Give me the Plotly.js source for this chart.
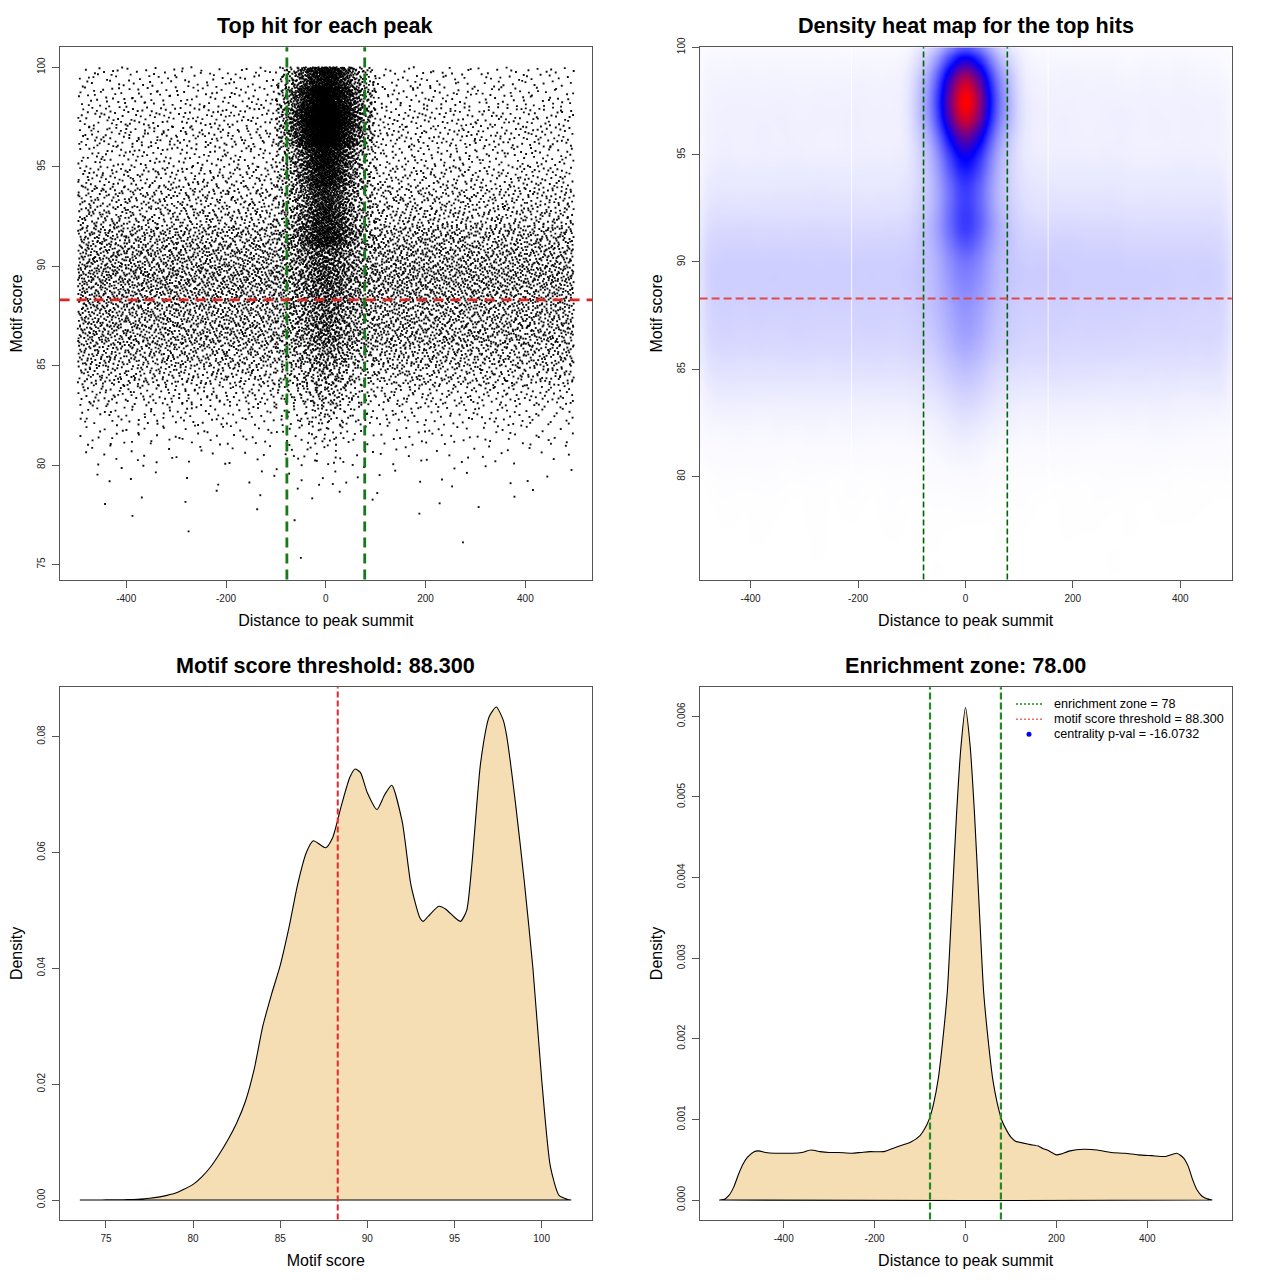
<!DOCTYPE html>
<html><head><meta charset="utf-8">
<script src="https://cdn.plot.ly/plotly-3.0.1.min.js"></script>
<style>html,body{margin:0;padding:0;background:#fff}#chart{width:1280px;height:1280px}</style>
</head><body><div id="chart"></div>
<script>
// ---------------- data ----------------
// score bins [s, s+1) for the "top hit" scatter
const scoreBins = [75,76,77,78,79,80,81,82,83,84,85,86,87,88,89,90,91,92,93,94,95,96,97,98,99];
// hits spread over the whole window (-497..497) per score bin
const bgCounts = [1,2,5,12,28,59,119,198,336,551,729,923,930,1031,1114,972,855,598,524,394,287,350,310,241,200];
// hits concentrated round the summit per score bin
const centerCounts = [0,0,0,2,5,10,17,31,51,60,80,110,120,140,160,190,374,340,320,470,550,950,1150,930,580];
// x spread of the wide hits (relative density per unit, bins of 100)
const bgXEdges = [-497,-400,-300,-200,-100,0,100,200,300,400,497];
const bgXWeights = [1.00,1.00,0.99,1.01,1.00,1.00,1.04,1.00,0.97,0.95];
// x spread of the central hits (relative density, bins of 10)
const centerXEdges = [-100,-90,-80,-70,-60,-50,-40,-30,-20,-10,0,10,20,30,40,50,60,70,80,90,100];
const centerXWeights = [0.3,0.42,0.6,0.9,1.35,1.9,2.6,3.5,4.3,4.8,4.8,4.3,3.5,2.6,1.9,1.35,0.9,0.6,0.42,0.28];

// density of motif score
const scoreGrid = [73.5,74,74.5,75,75.5,76,76.5,77,77.5,78,78.5,79,79.5,80,80.5,81,81.5,82,82.5,83,83.5,84,84.5,85,85.5,86,86.5,86.9,87.6,88,88.5,89,89.3,89.6,90,90.55,91,91.4,92,92.5,93,93.2,93.5,94.1,94.5,95,95.35,95.7,96,96.5,97,97.4,97.8,98,98.5,99,99.5,100,100.5,101,101.5,101.7];
const scoreDensity = [0,0,0.00001,0.00002,0.00003,0.00005,0.00009,0.00015,0.0003,0.0005,0.0008,0.0012,0.0019,0.0027,0.0040,0.0057,0.0079,0.0104,0.0133,0.0170,0.0225,0.0300,0.0355,0.0405,0.0470,0.0545,0.0600,0.0620,0.0608,0.0625,0.0680,0.0730,0.0744,0.0738,0.0703,0.0674,0.0700,0.0716,0.0653,0.0544,0.0488,0.0481,0.0490,0.0507,0.0502,0.0488,0.0481,0.0500,0.0580,0.0755,0.0835,0.0851,0.0828,0.0800,0.0685,0.0551,0.0400,0.0209,0.0058,0.0008,0.0001,0];

// density of distance to summit
const distGrid = [-541,-530,-520,-510,-500,-490,-480,-465,-455,-440,-420,-400,-380,-360,-340,-320,-300,-280,-250,-230,-210,-180,-160,-140,-120,-100,-90,-80,-70,-60,-50,-40,-30,-20,-10,0,10,20,30,40,50,60,70,80,90,100,110,140,160,170,180,200,210,230,260,290,320,350,380,410,440,465,480,490,500,510,520,530,543];
const distDensity = [0,0.00001,0.00006,0.00016,0.00031,0.00044,0.00053,0.00060,0.00061,0.00059,0.00058,0.00058,0.00058,0.00059,0.00062,0.00060,0.00059,0.00059,0.00058,0.00059,0.00060,0.00060,0.00064,0.00068,0.00072,0.00080,0.00088,0.00100,0.00120,0.00150,0.00198,0.00258,0.00364,0.00475,0.00562,0.00611,0.00565,0.00478,0.00366,0.00258,0.00198,0.00150,0.00120,0.00099,0.00087,0.00078,0.00073,0.00069,0.00067,0.00064,0.00062,0.00056,0.00057,0.00061,0.00063,0.00062,0.00059,0.00058,0.00056,0.00055,0.00054,0.00058,0.00052,0.00042,0.00025,0.00012,0.00005,0.00002,0];

const enrichmentZone = 78;
const scoreThreshold = 88.3;
const centralityPval = -16.0732;

const distTicks = [-400,-200,0,200,400];
const distTickText = ['-400','-200','0','200','400'];
const scoreTicks = [75,80,85,90,95,100];
const scoreTickText = ['75','80','85','90','95','100'];
const scoreTicksHeat = [80,85,90,95,100];
const scoreTickTextHeat = ['80','85','90','95','100'];
const densScoreTicks = [0,0.02,0.04,0.06,0.08];
const densScoreText = ['0.00','0.02','0.04','0.06','0.08'];
const densDistTicks = [0,0.001,0.002,0.003,0.004,0.005,0.006];
const densDistText = ['0.000','0.001','0.002','0.003','0.004','0.005','0.006'];

const titles = ['Top hit for each peak','Density heat map for the top hits','Motif score threshold: 88.300','Enrichment zone: 78.00'];

// ---------------- expand the binned counts into marks ----------------
function halton(i,b){let f=1,r=0;while(i>0){f/=b;r+=f*(i%b);i=Math.floor(i/b);}return r;}
let hk = 1;
const px = [], py = [];
function fillCells(counts, edges, weights){
  const lens = weights.map((w,i)=>w*(edges[i+1]-edges[i]));
  const tot = lens.reduce((a,b)=>a+b,0);
  counts.forEach((n,si)=>{
    let cum=0, prev=0;
    for(let j=0;j<lens.length;j++){
      cum += lens[j]/tot*n;
      const r = Math.round(cum), m = r-prev; prev = r;
      for(let k=0;k<m;k++){
        px.push(edges[j] + halton(hk,2)*(edges[j+1]-edges[j]));
        py.push(scoreBins[si] + halton(hk,3));
        hk++;
      }
    }
  });
}
fillCells(bgCounts, bgXEdges, bgXWeights);
fillCells(centerCounts, centerXEdges, centerXWeights);

// 2D kernel density on a 128x128 grid
const NX=128, NY=128, hx0=-495, hx1=496, hy0=75.2, hy1=100;
const dx=(hx1-hx0)/NX, dy=(hy1-hy0)/NY;
let g = []; for(let j=0;j<NY;j++){g.push(new Float64Array(NX));}
for(let i=0;i<px.length;i++){
  const ix=Math.floor((px[i]-hx0)/dx), iy=Math.floor((py[i]-hy0)/dy);
  if(ix>=0&&ix<NX&&iy>=0&&iy<NY) g[iy][ix]+=1;
}
function kern(s){const R=Math.ceil(3*s),k=[];let t=0;for(let i=-R;i<=R;i++){const v=Math.exp(-0.5*i*i/(s*s));k.push(v);t+=v;}return {R,k:k.map(v=>v/t)};}
const kx=kern(15/dx), ky=kern(0.72/dy);
let g2=[]; for(let j=0;j<NY;j++){const row=new Float64Array(NX);for(let i=0;i<NX;i++){let s=0;for(let t=-kx.R;t<=kx.R;t++){const ii=i+t;if(ii>=0&&ii<NX)s+=g[j][ii]*kx.k[t+kx.R];}row[i]=s;}g2.push(row);}
const z=[]; let zmax=0;
for(let j=0;j<NY;j++){const row=[];for(let i=0;i<NX;i++){let s=0;for(let t=-ky.R;t<=ky.R;t++){const jj=j+t;if(jj>=0&&jj<NY)s+=g2[jj][i]*ky.k[t+ky.R];}row.push(s);if(s>zmax)zmax=s;}z.push(row);}
const hxs=[],hys=[];for(let i=0;i<NX;i++)hxs.push(hx0+(i+0.5)*dx);for(let j=0;j<NY;j++)hys.push(hy0+(j+0.5)*dy);

// ---------------- figure ----------------
const W=1280,H=1280;
const L1=[59.6,592], L2=[699.6,1231.8], T1=[47.3,579.6], T2=[687.3,1219.6];
const dX=a=>[a[0]/W,a[1]/W], dY=a=>[1-a[1]/H,1-a[0]/H];
const FONT='Liberation Sans, Arial, Helvetica, sans-serif';

function axis(domain, range, vals, text, title, isY, anchor){
  return {domain, range, autorange:false, anchor, tickmode:'array', tickvals:vals, ticktext:text,
    ticks:'outside', ticklen:7, tickwidth:1, tickcolor:'#555', showline:true, linecolor:'#555', linewidth:1,
    mirror:true, showgrid:false, zeroline:false, tickangle:isY?-90:0, ticklabelstandoff:isY?3:2,
    tickfont:{size:10,color:'#222',family:FONT},
    title:{text:title, font:{size:16,color:'#000',family:FONT}, standoff:isY?8:12}, fixedrange:true};
}

const traces = [
  {type:'scatter', mode:'markers', x:px, y:py, xaxis:'x', yaxis:'y', hoverinfo:'skip',
   marker:{symbol:'square', size:1.9, color:'#000', opacity:0.95, line:{width:0}}, showlegend:false},
  {type:'heatmap', x:hxs, y:hys, z:z, xaxis:'x2', yaxis:'y2', zmin:0, zmax:zmax, zsmooth:'best', showscale:false,
   colorscale:[[0,'#ffffff'],[0.5,'#0000ff'],[1,'#ff0000']], hoverinfo:'skip'},
  {type:'scatter', mode:'lines', x:scoreGrid.concat([scoreGrid[scoreGrid.length-1], scoreGrid[0]]),
   y:scoreDensity.concat([0,0]), xaxis:'x3', yaxis:'y3', fill:'toself', fillcolor:'#F5DEB3',
   line:{color:'#000', width:1.1, shape:'spline', smoothing:0.6}, hoverinfo:'skip', showlegend:false},
  {type:'scatter', mode:'lines', x:distGrid.concat([distGrid[distGrid.length-1], distGrid[0]]),
   y:distDensity.concat([0,0]), xaxis:'x4', yaxis:'y4', fill:'toself', fillcolor:'#F5DEB3',
   line:{color:'#000', width:1.1, shape:'spline', smoothing:0.6}, hoverinfo:'skip', showlegend:false}
];

const vline=(xa,ya,x,color,width,dash)=>({type:'line', xref:xa, yref:ya+' domain', x0:x, x1:x, y0:0, y1:1, line:{color,width,dash}});
const hline=(xa,ya,y,color,width,dash)=>({type:'line', xref:xa+' domain', yref:ya, x0:0, x1:1, y0:y, y1:y, line:{color,width,dash}});

const shapes = [
  vline('x','y',-enrichmentZone,'#16791a',2.8,'10px,6px'),
  vline('x','y',enrichmentZone,'#16791a',2.8,'10px,6px'),
  hline('x','y',scoreThreshold,'#e02424',2.6,'10px,7px'),
  vline('x2','y2',-212,'rgba(255,255,255,0.8)',1,'solid'),
  vline('x2','y2',154,'rgba(255,255,255,0.8)',1,'solid'),
  vline('x2','y2',-enrichmentZone,'#006400',1.6,'6px,3px'),
  vline('x2','y2',enrichmentZone,'#006400',1.6,'6px,3px'),
  hline('x2','y2',scoreThreshold,'#e04848',2,'8px,4px'),
  vline('x3','y3',scoreThreshold,'#e8262b',2,'6px,3px'),
  vline('x4','y4',-enrichmentZone,'#228B22',2.2,'7px,3px'),
  vline('x4','y4',enrichmentZone,'#228B22',2.2,'7px,3px'),
  // legend keys
  {type:'line', xref:'paper', yref:'paper', x0:1016/W, x1:1042/W, y0:1-704/H, y1:1-704/H, line:{color:'#228B22', width:1.4, dash:'2px,2px'}},
  {type:'line', xref:'paper', yref:'paper', x0:1016/W, x1:1042/W, y0:1-719.3/H, y1:1-719.3/H, line:{color:'#f06a6a', width:1.4, dash:'2px,2px'}},
  {type:'circle', xref:'paper', yref:'paper', x0:1026.5/W, x1:1031.5/W, y0:1-736.8/H, y1:1-731.8/H, fillcolor:'#0000ff', line:{color:'#0000ff', width:0}}
];

const ann = [];
const titlePos = [[(L1[0]+L1[1])/2,25],[(L2[0]+L2[1])/2,25],[(L1[0]+L1[1])/2,665],[(L2[0]+L2[1])/2,665]];
titles.forEach((t,i)=>ann.push({text:'<b>'+t+'</b>', xref:'paper', yref:'paper', x:titlePos[i][0]/W, y:1-titlePos[i][1]/H,
  xanchor:'center', yanchor:'middle', showarrow:false, font:{size:21.6, color:'#000', family:FONT}}));
const legendText = ['enrichment zone = '+enrichmentZone, 'motif score threshold = '+scoreThreshold.toFixed(3), 'centrality p-val = '+centralityPval];
[704,719.3,734.3].forEach((y,i)=>ann.push({text:legendText[i], xref:'paper', yref:'paper', x:1051.5/W, y:1-y/H,
  xanchor:'left', yanchor:'middle', showarrow:false, font:{size:12.6, color:'#000', family:FONT}}));

const layout = {
  width:W, height:H, margin:{l:0,r:0,t:0,b:0}, paper_bgcolor:'#fff', plot_bgcolor:'#fff', showlegend:false,
  font:{family:FONT},
  xaxis: axis(dX(L1), [-533.5,533.5], distTicks, distTickText, 'Distance to peak summit', false, 'y'),
  yaxis: axis(dY(T1), [74.24,101.0], scoreTicks, scoreTickText, 'Motif score', true, 'x'),
  xaxis2: axis(dX(L2), [-495,496], distTicks, distTickText, 'Distance to peak summit', false, 'y2'),
  yaxis2: axis(dY(T1), [75.2,100], scoreTicksHeat, scoreTickTextHeat, 'Motif score', true, 'x2'),
  xaxis3: axis(dX(L1), [72.34,102.89], scoreTicks, scoreTickText, 'Motif score', false, 'y3'),
  yaxis3: axis(dY(T2), [-0.00338,0.0885], densScoreTicks, densScoreText, 'Density', true, 'x3'),
  xaxis4: axis(dX(L2), [-585,586], distTicks, distTickText, 'Distance to peak summit', false, 'y4'),
  yaxis4: axis(dY(T2), [-0.000243,0.00636], densDistTicks, densDistText, 'Density', true, 'x4'),
  shapes, annotations:ann
};
Plotly.newPlot('chart', traces, layout, {displayModeBar:false, staticPlot:true});
</script></body></html>
